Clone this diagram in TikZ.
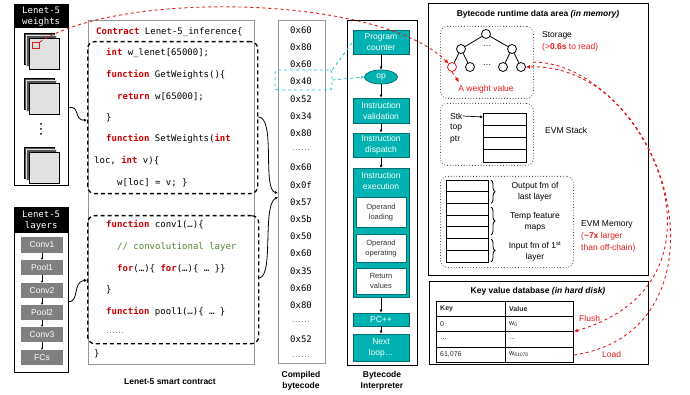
\documentclass[tikz,border=0pt]{standalone}
\usepackage{fontspec}
\setmainfont{Liberation Sans}
\newfontfamily\codefont{DejaVu Sans Mono}
\usetikzlibrary{arrows.meta,decorations.pathreplacing,shapes.geometric}

\definecolor{kwred}{RGB}{200,0,0}
\definecolor{cmtgreen}{RGB}{84,130,53}
\definecolor{tealfill}{RGB}{0,178,178}
\definecolor{tealedge}{RGB}{0,110,110}
\definecolor{hotred}{RGB}{225,25,25}
\definecolor{cyanline}{RGB}{40,200,210}
\definecolor{layergray}{RGB}{128,128,128}
\definecolor{framegray}{RGB}{150,150,150}
\definecolor{sqlight}{RGB}{225,225,225}
\definecolor{sqdark}{RGB}{85,85,85}

\newcommand{\kw}[1]{\textcolor{kwred}{\textbf{#1}}}
\newcommand{\lblfont}{\fontsize{8.5}{11}\selectfont}
\newcommand{\smallfont}{\fontsize{7.5}{10}\selectfont}
\newcommand{\tblfont}{\fontsize{7}{8}\selectfont}
\newcommand{\cfont}{\codefont\fontsize{9}{11}\selectfont}
\newcommand{\gapdots}{{\fontsize{5}{6}\selectfont ......}}

% one stack of three feature squares, front square named #3
\newcommand{\wstack}[3]{%
  \draw[fill=sqdark, draw=black, line width=0.5pt] (#1,#2) rectangle ++(30,31);
  \draw[fill=sqdark, draw=sqlight, line width=0.5pt] (#1+2.5,#2+2.5) rectangle ++(30,31);
  \node[draw=black, fill=sqlight, line width=0.6pt, minimum width=30pt, minimum height=31pt, inner sep=0, anchor=north west] (#3) at (#1+5,#2+5) {};
}

\tikzset{
  panel/.style={draw=black, line width=1pt, inner sep=0, anchor=north west},
  framebox/.style={draw=framegray, line width=0.9pt, inner sep=0, anchor=north west},
  headbar/.style={fill=black, text=white, font=\cfont, align=center, inner sep=0, anchor=north west},
  codeline/.style={anchor=west, inner sep=0, font=\cfont},
  bytecell/.style={inner sep=0, font=\cfont},
  codebox/.style={draw=black, line width=1.3pt, rounded corners=7pt, dash pattern=on 4pt off 3pt, inner sep=0, anchor=north west},
  layerbox/.style={fill=layergray, text=white, font=\lblfont, minimum width=42pt, minimum height=15pt, inner sep=0},
  stagebox/.style={fill=tealfill, draw=tealedge, line width=0.7pt, text=white, font=\lblfont, align=center, minimum width=56pt, inner sep=0},
  subbox/.style={fill=white, draw=tealedge, line width=0.7pt, font=\smallfont, align=center, minimum width=50pt, inner sep=0, text=black!80},
  flow/.style={-{Latex[length=3pt,width=3pt]}, line width=0.7pt},
  dotbox/.style={draw=black!70, dotted, line width=0.8pt, rounded corners=7pt, inner sep=0, anchor=north west},
  treenode/.style={circle, draw=black, line width=0.8pt, minimum size=9pt, inner sep=0},
  redlink/.style={draw=hotred, dashed, line width=0.9pt},
  cyanlink/.style={draw=cyanline, dashed, line width=0.9pt},
  capt/.style={font=\lblfont\bfseries, align=center, inner sep=0},
  lbl/.style={font=\lblfont, inner sep=0},
  celltxt/.style={font=\tblfont, inner sep=0, anchor=west, text=black!85},
  memrow/.style={draw=black, line width=0.8pt},
}

\begin{document}
\begin{tikzpicture}[x=1pt,y=-1pt]
\useasboundingbox (0,0) rectangle (690,395);

% ---------------- Lenet-5 weights ----------------
\node[panel, minimum width=54pt, minimum height=181pt] (wpanel) at (14,4) {};
\node[headbar, minimum width=54pt, minimum height=24pt] (whead) at (14,4) {Lenet-5\\weights};
\wstack{24}{33}{sq1}
\wstack{24}{78}{sq2}
\wstack{24}{147}{sq3}
\foreach \yy in {124,129,134} \fill (41,\yy) circle (1pt);
\node[draw=hotred, line width=0.8pt, minimum width=7pt, minimum height=6pt, inner sep=0, anchor=north west] (wsq) at (32,42) {};

% ---------------- Lenet-5 layers ----------------
\node[panel, minimum width=54pt, minimum height=165pt] (lpanel) at (14,207) {};
\node[headbar, minimum width=54pt, minimum height=26pt] (lhead) at (14,207) {Lenet-5\\layers};
\node[layerbox] (conv1) at (42,245) {Conv1};
\node[layerbox] (pool1) at (42,267.5) {Pool1};
\node[layerbox] (conv2) at (42,290.5) {Conv2};
\node[layerbox] (pool2) at (42,312.5) {Pool2};
\node[layerbox] (conv3) at (42,334.5) {Conv3};
\node[layerbox] (fcs) at (42,357.5) {FCs};
\foreach \a/\b in {conv1/pool1,pool1/conv2,conv2/pool2,pool2/conv3,conv3/fcs}
  \draw[-{Latex[length=2pt,width=2.5pt]}, line width=0.6pt] (\a) -- (\b);

% ---------------- smart contract ----------------
\node[framebox, minimum width=166pt, minimum height=344pt] (contract) at (88,20) {};
\node[codebox, minimum width=170pt, minimum height=152pt] (cb1) at (87,41) {};
\node[codebox, minimum width=171pt, minimum height=128pt] (cb2) at (87,215) {};

\node[codeline] (l01) at (96,32) {\kw{Contract} Lenet-5\_inference\{};
\node[codeline] (l02) at (106,53) {\kw{int} w\_lenet[65000];};
\node[codeline] (l03) at (106,75) {\kw{function} GetWeights()\{};
\node[codeline] (l04) at (117,97) {\kw{return} w[65000];};
\node[codeline] (l05) at (106,118) {\}};
\node[codeline] (l06) at (106,139) {\kw{function} SetWeights(\kw{int}};
\node[codeline] (l07) at (94,161) {loc, \kw{int} v)\{};
\node[codeline] (l08) at (117,183) {w[loc] = v; \}};
\node[codeline] (l09) at (106,225) {\kw{function} conv1(…)\{};
\node[codeline, text=cmtgreen] (l10) at (117,247) {// convolutional layer};
\node[codeline] (l11) at (117,269) {\kw{for}(…)\{ \kw{for}(…)\{ … \}\}};
\node[codeline] (l12) at (106,290) {\}};
\node[codeline] (l13) at (106,312) {\kw{function} pool1(…)\{ … \}};
\node[codeline] (l14) at (106,333) {\gapdots};
\node[codeline] (l15) at (94,354) {\}};

\node[capt] (ccap) at (170,382) {Lenet-5 smart contract};

% links from the model parts into the contract
\draw[-{Latex[length=3pt,width=3pt]}, line width=0.8pt] (68,108) .. controls (80,104) and (74,121) .. (cb1.west |- 0,120);
\draw[-{Latex[length=3pt,width=3pt]}, line width=0.8pt] (68,302) .. controls (80,302) and (72,282) .. (cb2.west |- 0,280);

% ---------------- compiled bytecode ----------------
\node[framebox, minimum width=47pt, minimum height=343pt] (bcframe) at (278,20) {};
\foreach \t [count=\i from 0] in {0x60,0x80,0x60,0x40,0x52,0x34,0x80,\gapdots,0x60,0x0f,0x57,0x5b,0x50,0x60,0x35,0x60,0x80,\gapdots,0x52,\gapdots}
  \node[bytecell] (b\i) at (301,30+\i*17.2) {\t};
\node[capt] (bcap) at (301,381) {Compiled\\bytecode};

\draw[-{Latex[length=3pt,width=3pt]}, line width=0.8pt] (cb1.east |- 0,117) .. controls (276,117) and (262,190) .. (bcframe.west |- 0,193);
\draw[-{Latex[length=3pt,width=3pt]}, line width=0.8pt] (cb2.east |- 0,278) .. controls (274,276) and (262,205) .. (bcframe.west |- 0,197);

% ---------------- interpreter ----------------
\node[panel, minimum width=70pt, minimum height=345pt] (interp) at (347,20) {};
\node[stagebox, minimum height=24pt] (pc) at (381,42) {Program\\counter};
\node[ellipse, fill=tealfill, draw=tealedge, line width=0.7pt, text=white, font=\lblfont, minimum width=33pt, minimum height=14pt, inner sep=0] (op) at (381,77) {op};
\node[stagebox, minimum height=25pt] (valid) at (381,110.5) {Instruction\\validation};
\node[stagebox, minimum height=24pt] (disp) at (381,145) {Instruction\\dispatch};
\node[stagebox, minimum height=129pt, anchor=north] (exec) at (381,168) {};
\node[lbl, text=white, align=center] (exectxt) at (381,181) {Instruction\\execution};
\node[subbox, minimum height=30pt] (oload) at (381,212.5) {Operand\\loading};
\node[subbox, minimum height=28pt] (ooper) at (381,248.5) {Operand\\operating};
\node[subbox, minimum height=26pt] (oret) at (381,281) {Return\\values};
\node[stagebox, minimum height=13pt] (pcinc) at (381,319.5) {PC++};
\node[stagebox, minimum height=27pt] (next) at (381,347.5) {Next\\loop…};
\foreach \a/\b in {pc/op,op/valid,valid/disp,disp/exec,exec/pcinc,pcinc/next}
  \draw[flow] (\a) -- (\b);
\node[capt] (icap) at (382,381) {Bytecode\\Interpreter};

% highlighted opcode and its path into the interpreter
\node[cyanlink, rounded corners=3pt, minimum width=57pt, minimum height=20pt, inner sep=0] (sel) at (303.5,80) {};
\draw[cyanlink] (sel.north east) -- (pc.west);
\draw[cyanlink, -{Latex[length=3pt,width=3pt]}] (sel.east) -- (op.west);

% ---------------- runtime data area ----------------
\node[panel, minimum width=220pt, minimum height=272pt] (rt) at (428,3) {};
\node[lbl, font=\lblfont\bfseries] (rttitle) at (538,14) {Bytecode runtime data area \textit{(in memory)}};

% storage
\node[dotbox, minimum width=93pt, minimum height=72pt] (stor) at (440,26) {};
\node[treenode] (t0) at (486,34) {};
\node[treenode] (t1) at (461,49) {};
\node[treenode] (t2) at (512,49) {};
\node[treenode, draw=hotred] (n1) at (452,67) {};
\node[treenode] (n2) at (470,67) {};
\node[treenode] (n3) at (503,67) {};
\node[treenode] (n4) at (521,67) {};
\draw[line width=0.8pt] (t0) -- (t1) (t0) -- (t2) (t1) -- (n1) (t1) -- (n2) (t2) -- (n3) (t2) -- (n4);
\node[lbl] (td1) at (487,46) {…};
\node[lbl] (td2) at (487,65) {…};
\node[lbl, text=hotred] (wval) at (486,89) {A weight value};
\draw[redlink, -{Latex[length=4pt,width=4pt]}] (n1.south) -- (459,82);
\node[lbl, anchor=west] (storlbl) at (542,35) {Storage};
\node[lbl, anchor=west, text=hotred] (storlat) at (542,47) {(>\textbf{0.6s} to read)};

% EVM stack
\node[dotbox, minimum width=93pt, minimum height=62pt] (stackarea) at (440,103) {};
\foreach \k in {0,1,2,3}
  \draw[memrow] (483,113+\k*12.25) rectangle (526,113+\k*12.25+12.25);
\node[lbl, anchor=west] (stk) at (450,116) {Stk};
\node[lbl, anchor=west] (stktop) at (450,128) {top};
\node[lbl, anchor=west] (stkptr) at (450,140) {ptr};
\coordinate (stkin) at (483,117);
\draw[-{Latex[length=3pt,width=3pt]}, line width=0.7pt] (stk.east) -- (stkin);
\node[lbl, anchor=west] (stacklbl) at (545,130) {EVM Stack};

% EVM memory
\node[dotbox, minimum width=133pt, minimum height=91pt] (memarea) at (440,176) {};
\foreach \k in {0,...,6}
  \draw[memrow] (446,180+\k*11.7) rectangle (488,180+\k*11.7+11.7);
\draw[decorate, decoration={brace, amplitude=4pt}, line width=0.8pt] (491,180) -- (491,203.4);
\draw[decorate, decoration={brace, amplitude=4pt}, line width=0.8pt] (491,207) -- (491,235);
\draw[decorate, decoration={brace, amplitude=4pt}, line width=0.8pt] (491,239) -- (491,262);
\node[lbl, align=center] (m1) at (535,191.5) {Output fm of\\last layer};
\node[lbl, align=center] (m2) at (535,222) {Temp feature\\maps};
\node[lbl, align=center] (m3) at (535,251.5) {Input fm of 1\textsuperscript{st}\\layer};
\node[lbl, anchor=west] (memlbl) at (581,224) {EVM Memory};
\node[lbl, anchor=west, text=hotred] (memx1) at (581,236) {(\textbf{\textasciitilde7x} larger};
\node[lbl, anchor=west, text=hotred] (memx2) at (581,248) {than off-chain)};

% ---------------- key value database ----------------
\node[panel, minimum width=219pt, minimum height=83pt] (kv) at (429,281) {};
\node[lbl, font=\lblfont\bfseries] (kvtitle) at (538,291) {Key value database \textit{(in hard disk)}};
\draw[line width=1pt] (436,301) rectangle (573,362);
\draw[line width=0.8pt] (436,316) -- (573,316) (436,331.5) -- (573,331.5) (436,347) -- (573,347) (505,301) -- (505,362);
\node[celltxt, font=\tblfont\bfseries] (hk) at (440,308.5) {Key};
\node[celltxt, font=\tblfont\bfseries] (hv) at (509,308.5) {Value};
\node[celltxt] (k0) at (440,324) {0};
\node[celltxt] (v0) at (509,324) {w\textsubscript{0}};
\node[celltxt] (k1) at (440,339) {…};
\node[celltxt] (v1) at (509,339) {…};
\node[celltxt] (k2) at (440,354.5) {61,076};
\node[celltxt] (v2) at (509,354.5) {w\textsubscript{\textit{61076}}};
\coordinate (flushin) at (574,331.5);
\coordinate (loadout) at (574,355);
\coordinate (flushsrc) at (533,62);
\node[lbl, anchor=west, text=hotred] (flushlbl) at (579,318) {Flush};
\node[lbl, anchor=west, text=hotred] (loadlbl) at (602,354) {Load};

% ---------------- red data paths ----------------
\draw[redlink, -{Latex[length=4pt,width=4pt]}] (wsq.north east) .. controls (120,-10) and (380,-5) .. (n1.north west);
\draw[redlink, -{Latex[length=4pt,width=4pt]}] (flushsrc) .. controls (640,62) and (750,280) .. (flushin);
\draw[redlink, -{Latex[length=4pt,width=4pt]}] (loadout) .. controls (740,330) and (670,62) .. (n4.east);

\end{tikzpicture}
\end{document}
